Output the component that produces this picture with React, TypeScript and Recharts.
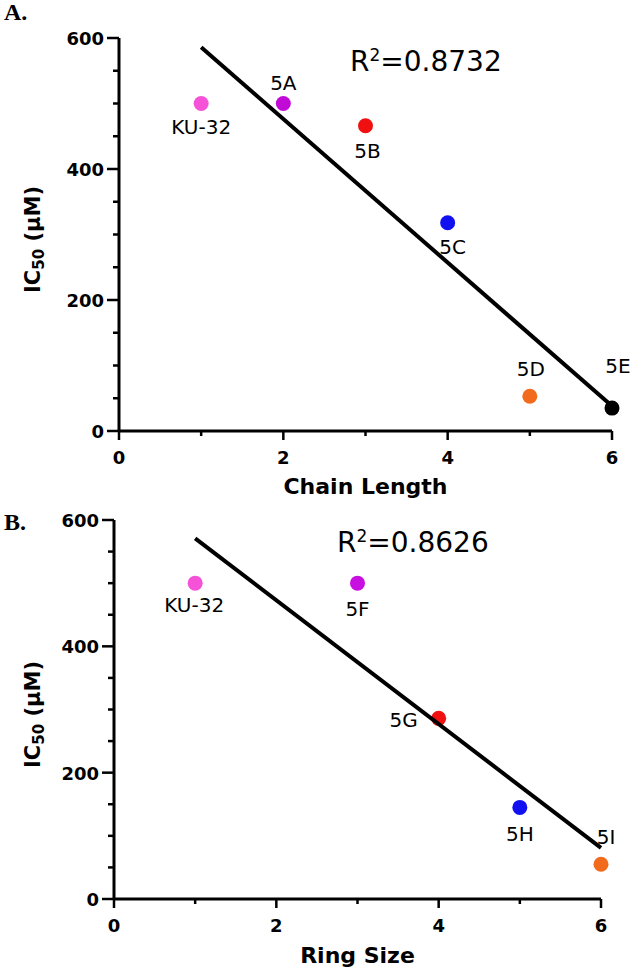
import { Label, Scatter, ScatterChart, XAxis, YAxis } from "recharts";

// panel A: chain length series
const chainLength = [1, 2, 3, 4, 5, 6];
const chainNames = ["KU-32", "5A", "5B", "5C", "5D", "5E"];
const chainIC50 = [500, 500, 466, 318, 53, 35];
const chainFitX = [1, 6];
const chainFitY = [586, 38];

// panel B: ring size series
const ringSize = [1, 3, 4, 5, 6];
const ringNames = ["KU-32", "5F", "5G", "5H", "5I"];
const ringIC50 = [500, 500, 286, 145, 55];
const ringFitX = [1, 6];
const ringFitY = [571, 81];

const xTicks = [0, 1, 2, 3, 4, 5, 6];
const yTicks = [0, 50, 100, 150, 200, 250, 300, 350, 400, 450, 500, 550, 600];

const FONT = "'DejaVu Sans', Arial, sans-serif";

const pointColors: Record<string, string> = {
  "KU-32": "#f552d8",
  "5A": "#c20ad6",
  "5F": "#c810e0",
  "5B": "#f01010",
  "5G": "#f01010",
  "5C": "#1010f0",
  "5H": "#1010f0",
  "5D": "#f26b1d",
  "5I": "#f26b1d",
  "5E": "#000000",
};

// label offsets relative to the point centre (dx, baseline dy)
const chainLabelPos: Record<string, [number, number]> = {
  "KU-32": [0, 30],
  "5A": [0, -14],
  "5B": [2, 32],
  "5C": [5, 31],
  "5D": [1, -20],
  "5E": [6, -35],
};
const ringLabelPos: Record<string, [number, number]> = {
  "KU-32": [-1, 29],
  "5F": [0, 33],
  "5G": [-35, 9],
  "5H": [0, 34],
  "5I": [5, -20],
};

const toPoints = (xs: number[], ys: number[], names?: string[]) =>
  xs.map((x, i) => ({ x, y: ys[i], name: names ? names[i] : "" }));

const chainData = toPoints(chainLength, chainIC50, chainNames);
const chainFit = toPoints(chainFitX, chainFitY);
const ringData = toPoints(ringSize, ringIC50, ringNames);
const ringFit = toPoints(ringFitX, ringFitY);

function YTick(props: any) {
  const { x, y, payload } = props;
  const major = payload.value % 200 === 0;
  return (
    <g>
      <line x1={x - (major ? 12 : 6)} x2={x} y1={y} y2={y} stroke="#000" strokeWidth={2.5} />
      {major && (
        <text x={x - 15} y={y + 7} textAnchor="end" fontFamily={FONT} fontWeight="bold" fontSize={18} fill="#000">
          {payload.value}
        </text>
      )}
    </g>
  );
}

function XTick(props: any) {
  const { x, y, payload } = props;
  const major = payload.value % 2 === 0;
  return (
    <g>
      <line x1={x} x2={x} y1={y} y2={y + (major ? 9 : 5)} stroke="#000" strokeWidth={2.5} />
      {major && (
        <text x={x} y={y + 33} textAnchor="middle" fontFamily={FONT} fontWeight="bold" fontSize={18} fill="#000">
          {payload.value}
        </text>
      )}
    </g>
  );
}

function makeDot(labelPos: Record<string, [number, number]>) {
  return (props: any) => {
    const { cx, cy, payload } = props;
    const [dx, dy] = labelPos[payload.name] ?? [0, 30];
    return (
      <g>
        <circle cx={cx} cy={cy} r={7.5} fill={pointColors[payload.name] ?? "#000"} />
        <text x={cx + dx} y={cy + dy} textAnchor="middle" fontFamily={FONT} fontSize={20} fill="#000">
          {payload.name}
        </text>
      </g>
    );
  };
}

function XTitle({ text }: { text: string }) {
  return (
    <Label
      content={(p: any) => {
        const vb = p.viewBox ?? {};
        return (
          <text
            x={vb.x + vb.width / 2}
            y={vb.y + vb.height}
            textAnchor="middle"
            fontFamily={FONT}
            fontWeight="bold"
            fontSize={22}
            fill="#000"
          >
            {text}
          </text>
        );
      }}
    />
  );
}

function YTitle() {
  return (
    <Label
      content={(p: any) => {
        const vb = p.viewBox ?? {};
        const cx = 40;
        const cy = vb.y + vb.height / 2 + 5;
        return (
          <text
            x={cx}
            y={cy}
            transform={`rotate(-90, ${cx}, ${cy})`}
            textAnchor="middle"
            fontFamily={FONT}
            fontWeight="bold"
            fontSize={21}
            fill="#000"
          >
            IC
            <tspan dy={4} fontSize={15}>
              50
            </tspan>
            <tspan dy={-4}> (μM)</tspan>
          </text>
        );
      }}
    />
  );
}

function Panel({
  data,
  fit,
  labelPos,
  title,
  margin,
  height,
}: {
  data: { x: number; y: number; name: string }[];
  fit: { x: number; y: number }[];
  labelPos: Record<string, [number, number]>;
  title: string;
  margin: { top: number; right: number; bottom: number; left: number };
  height: number;
}) {
  return (
    <ScatterChart width={632} height={height} margin={margin}>
      <XAxis
        type="number"
        dataKey="x"
        domain={[0, 6]}
        ticks={xTicks}
        interval={0}
        tick={<XTick />}
        tickLine={false}
        tickSize={0}
        tickMargin={0}
        axisLine={{ stroke: "#000", strokeWidth: 3 }}
        height={title === "Chain Length" ? 63 : 64}
      >
        <XTitle text={title} />
      </XAxis>
      <YAxis
        type="number"
        dataKey="y"
        domain={[0, 600]}
        ticks={yTicks}
        interval={0}
        tick={<YTick />}
        tickLine={false}
        tickSize={0}
        tickMargin={0}
        axisLine={{ stroke: "#000", strokeWidth: 3 }}
        width={60}
      >
        <YTitle />
      </YAxis>
      <Scatter data={data} shape={makeDot(labelPos)} isAnimationActive={false} />
      <Scatter
        data={fit}
        line={{ stroke: "#000", strokeWidth: 4 }}
        shape={() => <g />}
        isAnimationActive={false}
      />
    </ScatterChart>
  );
}

export default function App() {
  return (
    <div style={{ position: "absolute", left: 0, top: 0, width: 632, height: 970, background: "#fff" }}>
      <div style={{ position: "absolute", left: 0, top: 0 }}>
        <Panel
          data={chainData}
          fit={chainFit}
          labelPos={chainLabelPos}
          title="Chain Length"
          height={500}
          margin={{ top: 38, right: 20, bottom: 6, left: 59 }}
        />
      </div>
      <div style={{ position: "absolute", left: 0, top: 500 }}>
        <Panel
          data={ringData}
          fit={ringFit}
          labelPos={ringLabelPos}
          title="Ring Size"
          height={470}
          margin={{ top: 20, right: 31, bottom: 7, left: 54 }}
        />
      </div>
      <div
        style={{
          position: "absolute",
          left: 4,
          top: 0,
          fontFamily: "'Liberation Serif', 'Times New Roman', serif",
          fontWeight: "bold",
          fontSize: 24,
          lineHeight: "24px",
        }}
      >
        A.
      </div>
      <div
        style={{
          position: "absolute",
          left: 4,
          top: 510,
          fontFamily: "'Liberation Serif', 'Times New Roman', serif",
          fontWeight: "bold",
          fontSize: 24,
          lineHeight: "24px",
        }}
      >
        B.
      </div>
      <div style={{ position: "absolute", left: 350, top: 48, fontFamily: FONT, fontSize: 28, lineHeight: "28px" }}>
        R<sup style={{ lineHeight: 0, fontSize: 17 }}>2</sup>=0.8732
      </div>
      <div style={{ position: "absolute", left: 337, top: 529, fontFamily: FONT, fontSize: 28, lineHeight: "28px" }}>
        R<sup style={{ lineHeight: 0, fontSize: 17 }}>2</sup>=0.8626
      </div>
    </div>
  );
}
